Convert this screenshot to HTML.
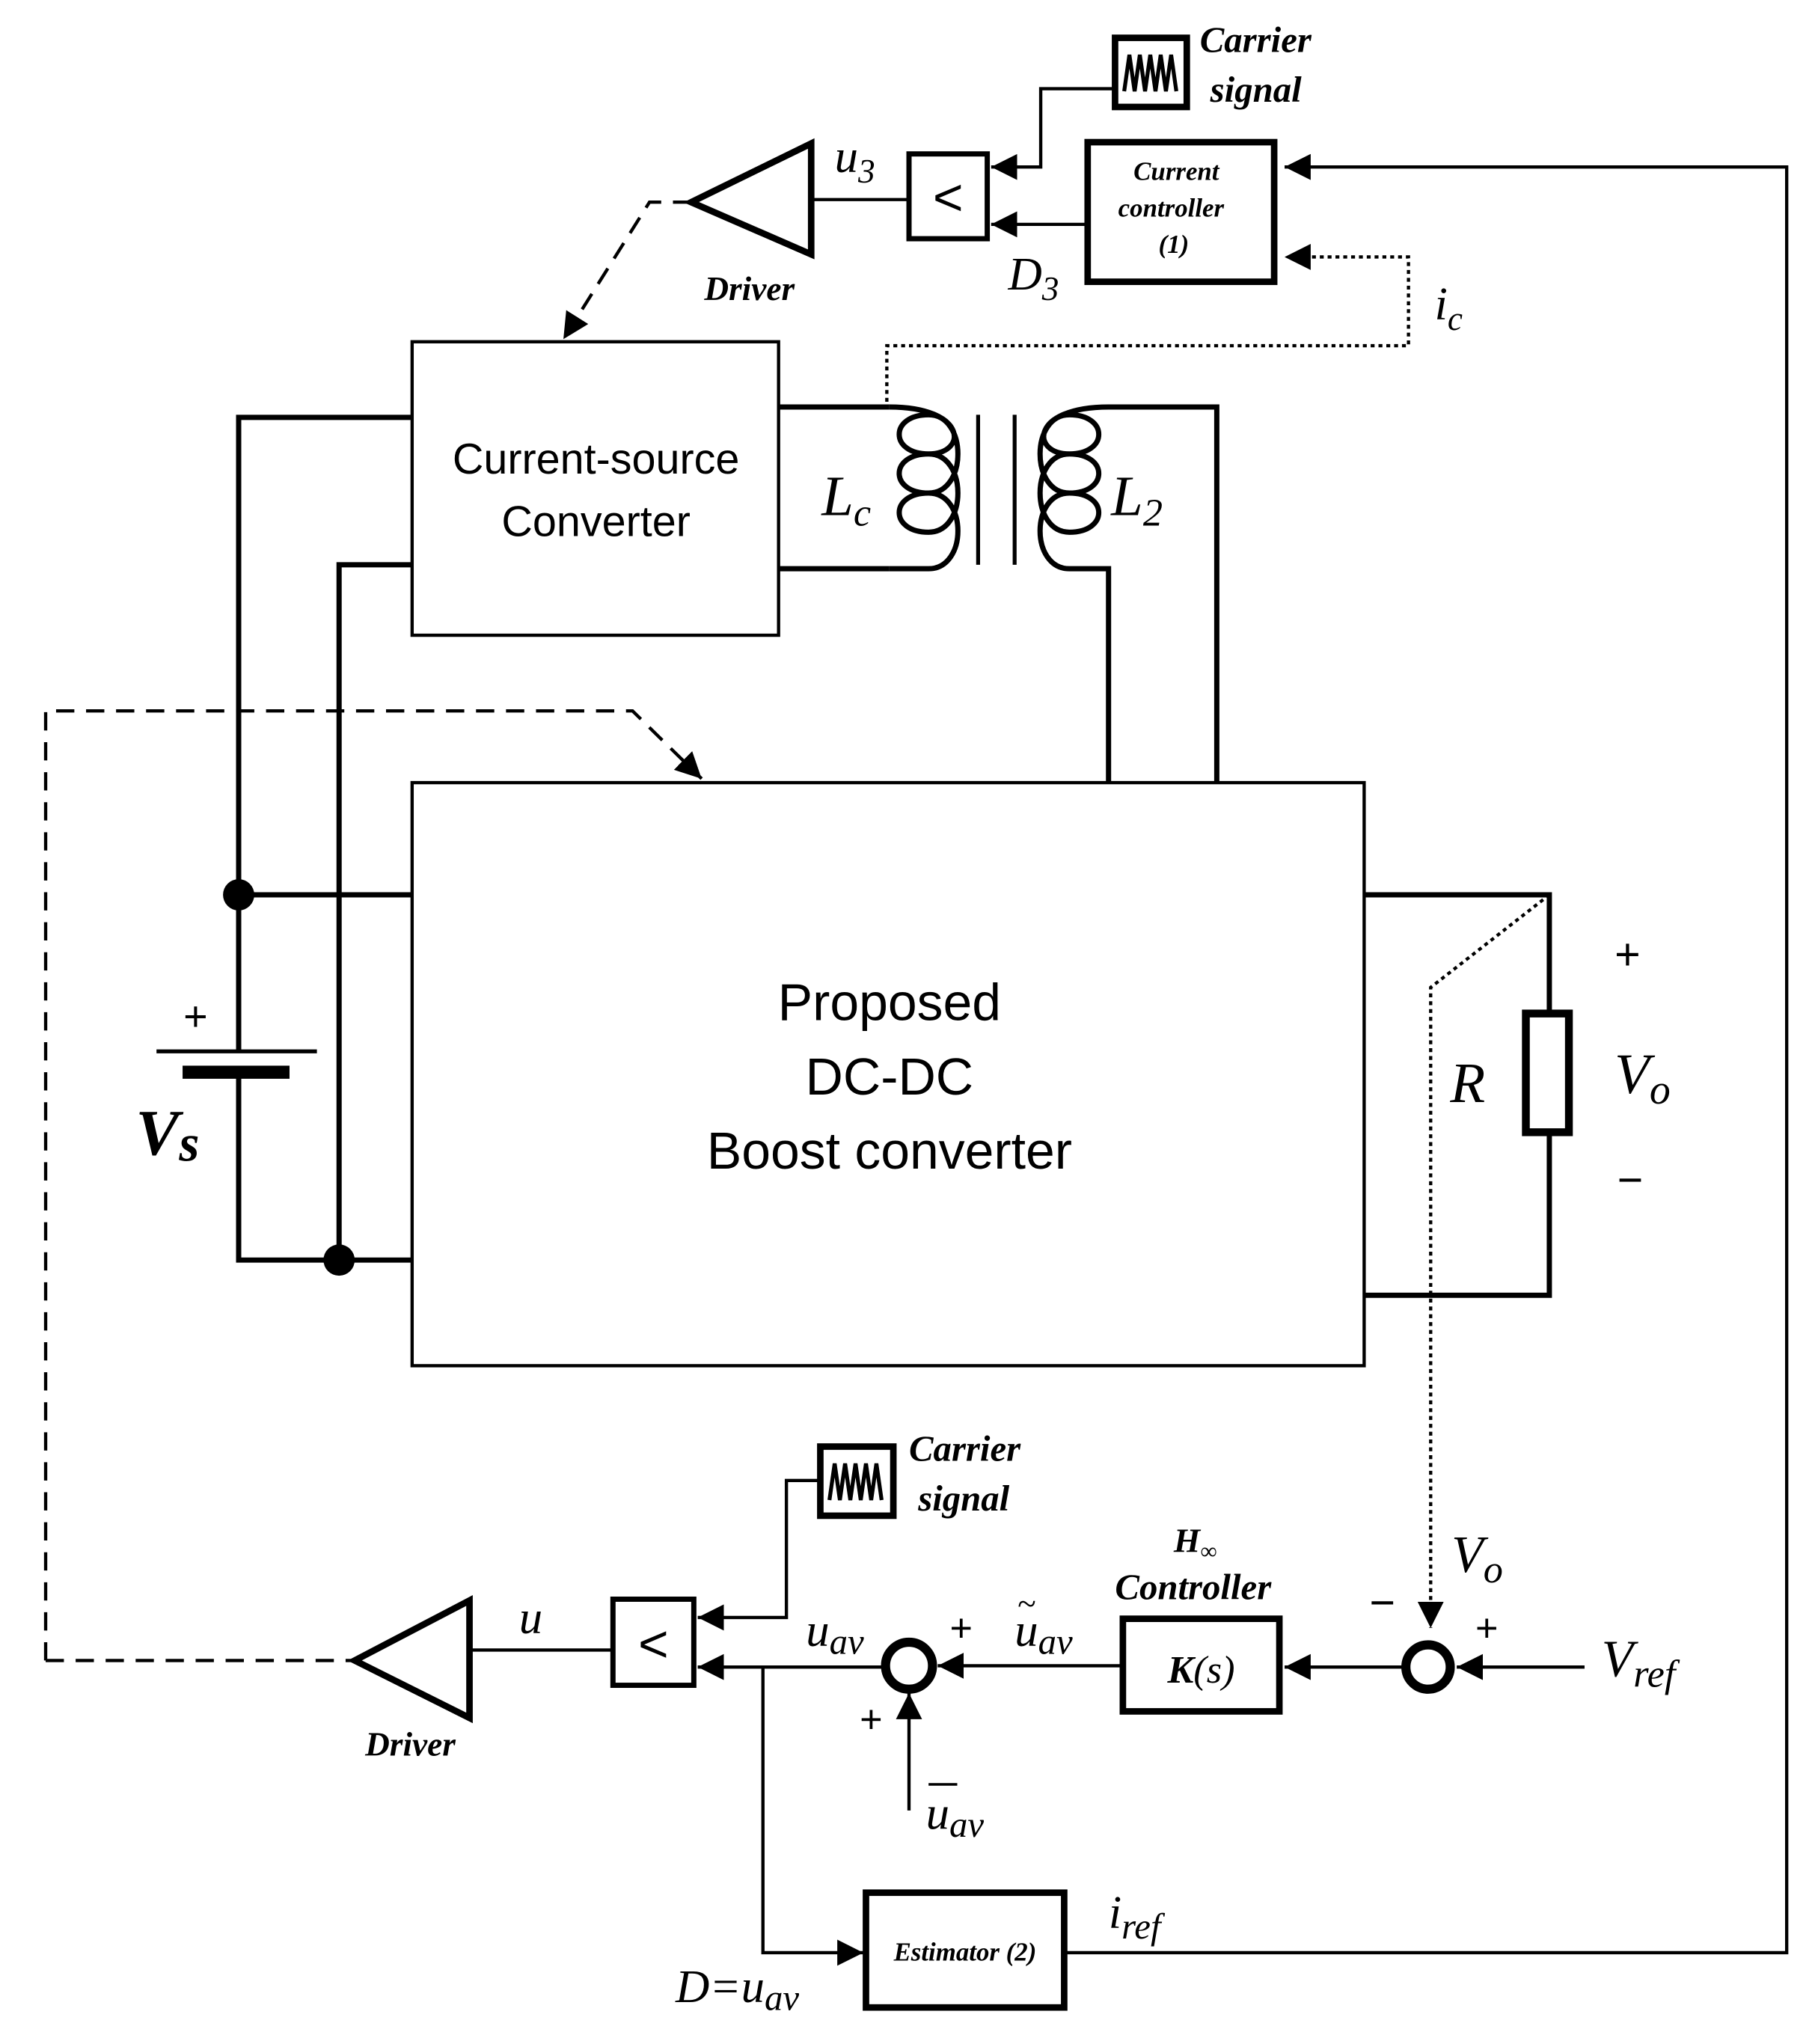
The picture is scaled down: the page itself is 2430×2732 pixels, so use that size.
<!DOCTYPE html>
<html><head><meta charset="utf-8"><style>html,body{margin:0;padding:0;background:#fff}svg{display:block}
.s{font-family:"Liberation Sans",sans-serif}
.i{font-family:"Liberation Serif",serif;font-style:italic}
.bi{font-family:"Liberation Serif",serif;font-style:italic;font-weight:bold}
</style></head><body>
<svg width="2430" height="2732" viewBox="0 0 1394 1567" preserveAspectRatio="none" xmlns="http://www.w3.org/2000/svg">
<defs>
<marker id="b" viewBox="0 0 10 10" refX="10" refY="5" markerWidth="20" markerHeight="20" orient="auto" markerUnits="userSpaceOnUse"><path d="M0,0L10,5L0,10z" fill="#000"/></marker>
</defs>
<g fill="none" stroke="#000">
<rect x="855" y="29" width="55" height="53" stroke-width="5"/>
<path d="M862,70 L866,42 L870,70 L874,42 L878,70 L882,42 L886,70 L890,42 L894,70 L898,42 L902,70" stroke-width="3"/>
<path d="M853,68 H798 V128 H760" stroke-width="2.5" marker-end="url(#b)"/>
<rect x="697" y="118" width="60" height="65" stroke-width="4"/>
<rect x="834" y="109" width="143" height="107" stroke-width="5"/>
<path d="M833,172 H760" stroke-width="2.5" marker-end="url(#b)"/>
<path d="M697,153 H622" stroke-width="2.5"/>
<path d="M622,110 L530,155 L622,195 Z" stroke-width="5"/>
<path d="M530,155 H498 L432,260" stroke-width="2.5" stroke-dasharray="14,9" marker-end="url(#b)"/>
<path d="M817,1497 H1370 V128 H985" stroke-width="2.5" marker-end="url(#b)"/>
<path d="M680,308 V265 H1080 V197 H985" stroke-width="2.5" stroke-dasharray="3,3" marker-end="url(#b)"/>
<rect x="316" y="262" width="281" height="225" stroke-width="2.5"/>
<path d="M316,320 H183 V806 M183,822 V966 H316 M183,686 H316 M316,433 H260 V966" stroke-width="4"/>
<path d="M120,806 H243" stroke-width="3"/>
<path d="M140,822 H222" stroke-width="10"/>
<path d="M597,312 H682 M597,436 H682" stroke-width="4"/>
<path d="M682,312 C742,312 742,348 712,348 C682,348 682,318 712,318 C742,318 742,378 712,378 C682,378 682,348 712,348 C742,348 742,408 712,408 C682,408 682,378 712,378 C742,378 742,436 712,436 H682" stroke-width="4"/>
<path d="M750,318 V433 M778,318 V433" stroke-width="3"/>
<path d="M850,312 C790,312 790,348 820,348 C850,348 850,318 820,318 C790,318 790,378 820,378 C850,378 850,348 820,348 C790,348 790,408 820,408 C850,408 850,378 820,378 C790,378 790,436 820,436 H850 V600 M850,312 H933 V600" stroke-width="4"/>
<rect x="316" y="600" width="730" height="447" stroke-width="2.5"/>
<path d="M1046,686 H1188 V775 M1188,870 V993 H1046" stroke-width="4"/>
<rect x="1170" y="777" width="33" height="91" stroke-width="6"/>
<path d="M1188,686 L1097,757 V1248" stroke-width="2.5" stroke-dasharray="3,3" marker-end="url(#b)"/>
<path d="M35,1273 V545 H485 L538,597" stroke-width="2.5" stroke-dasharray="14,9" marker-end="url(#b)"/>
<path d="M35,1273 H270" stroke-width="2.5" stroke-dasharray="14,9"/>
<path d="M360,1227 L272,1273 L360,1317 Z" stroke-width="5"/>
<path d="M360,1265 H470" stroke-width="2.5"/>
<rect x="470" y="1226" width="62" height="66" stroke-width="4"/>
<rect x="629" y="1109" width="56" height="53" stroke-width="5"/>
<path d="M636,1150 L640,1122 L644,1150 L648,1122 L652,1150 L656,1122 L660,1150 L664,1122 L668,1150 L672,1122 L676,1150" stroke-width="3"/>
<path d="M628,1135 H603 V1240 H535" stroke-width="2.5" marker-end="url(#b)"/>
<path d="M678,1278 H535" stroke-width="2.5" marker-end="url(#b)"/>
<circle cx="697" cy="1277" r="18" stroke-width="7"/>
<path d="M697,1388 V1298" stroke-width="2.5" marker-end="url(#b)"/>
<rect x="861" y="1241" width="120" height="71" stroke-width="5"/>
<path d="M860,1277 H719" stroke-width="2.5" marker-end="url(#b)"/>
<circle cx="1095" cy="1278" r="17" stroke-width="7"/>
<path d="M1076,1278 H985" stroke-width="2.5" marker-end="url(#b)"/>
<path d="M1215,1278 H1117" stroke-width="2.5" marker-end="url(#b)"/>
<path d="M585,1278 V1497 H662" stroke-width="2.5" marker-end="url(#b)"/>
<rect x="664" y="1451" width="152" height="88" stroke-width="5"/>
</g>
<circle cx="183" cy="686" r="12"/><circle cx="260" cy="966" r="12"/>
<text x="727" y="165" font-size="40" text-anchor="middle" class="s">&lt;</text>
<text x="501" y="1274" font-size="40" text-anchor="middle" class="s">&lt;</text>
<text x="920" y="40" font-size="28" class="bi">Carrier</text>
<text x="928" y="78" font-size="28" class="bi">signal</text>
<text x="697" y="1120" font-size="28" class="bi">Carrier</text>
<text x="704" y="1158" font-size="28" class="bi">signal</text>
<g class="bi" font-size="20" text-anchor="middle"><text x="902" y="138">Current</text><text x="898" y="166">controller</text><text x="900" y="194">(1)</text></g>
<text x="640" y="132" font-size="36" class="i">u<tspan font-size="26" dy="8">3</tspan></text>
<text x="773" y="222" font-size="36" class="i">D<tspan font-size="26" dy="8">3</tspan></text>
<text x="540" y="230" font-size="26" class="bi">Driver</text>
<text x="280" y="1346" font-size="26" class="bi">Driver</text>
<text x="1100" y="245" font-size="36" class="i">i<tspan font-size="26" dy="8">c</tspan></text>
<text x="457" y="363" font-size="33" text-anchor="middle" class="s">Current-source</text>
<text x="457" y="411" font-size="33" text-anchor="middle" class="s">Converter</text>
<text x="630" y="395" font-size="44" class="i">L<tspan font-size="30" dy="8">c</tspan></text>
<text x="852" y="395" font-size="44" class="i">L<tspan font-size="30" dy="8">2</tspan></text>
<g class="s" font-size="40" text-anchor="middle"><text x="682" y="782">Proposed</text><text x="682" y="839">DC-DC</text><text x="682" y="896">Boost converter</text></g>
<text x="150" y="790" font-size="32" text-anchor="middle" class="s">+</text>
<text x="104" y="885" font-size="50" class="bi">V<tspan font-size="40" dy="5">s</tspan></text>
<text x="1248" y="743" font-size="34" text-anchor="middle" class="s">+</text>
<text x="1250" y="916" font-size="34" text-anchor="middle" class="s">−</text>
<text x="1112" y="845" font-size="44" class="i">R</text>
<text x="1238" y="838" font-size="44" class="i">V<tspan font-size="32" dy="8">o</tspan></text>
<text x="398" y="1252" font-size="36" class="i">u</text>
<text x="618" y="1262" font-size="36" class="i">u<tspan font-size="28" dy="6">av</tspan></text>
<text x="737" y="1258" font-size="30" text-anchor="middle" class="s">+</text>
<text x="668" y="1328" font-size="30" text-anchor="middle" class="s">+</text>
<text x="710" y="1402" font-size="36" class="i">u<tspan font-size="28" dy="6">av</tspan></text>
<path d="M712,1368 H734" stroke="#000" stroke-width="2"/>
<text x="778" y="1262" font-size="36" class="i">u<tspan font-size="28" dy="6">av</tspan></text>
<text x="780" y="1238" font-size="26" class="i">~</text>
<text x="900" y="1190" font-size="26" class="bi">H<tspan font-size="18" dy="5">∞</tspan></text>
<text x="855" y="1226" font-size="28" class="bi">Controller</text>
<text x="921" y="1290" font-size="30" text-anchor="middle" class="i"><tspan font-weight="bold">K</tspan>(s)</text>
<text x="1050" y="1240" font-size="34" class="s">−</text>
<text x="1140" y="1258" font-size="30" text-anchor="middle" class="s">+</text>
<text x="1113" y="1205" font-size="40" class="i">V<tspan font-size="30" dy="8">o</tspan></text>
<text x="1228" y="1285" font-size="40" class="i">V<tspan font-size="30" dy="8">ref</tspan></text>
<text x="740" y="1503" font-size="20" text-anchor="middle" class="bi">Estimator (2)</text>
<text x="850" y="1478" font-size="36" class="i">i<tspan font-size="28" dy="8">ref</tspan></text>
<text x="518" y="1535" font-size="36" class="i">D=u<tspan font-size="28" dy="6">av</tspan></text>
</svg>
</body></html>
